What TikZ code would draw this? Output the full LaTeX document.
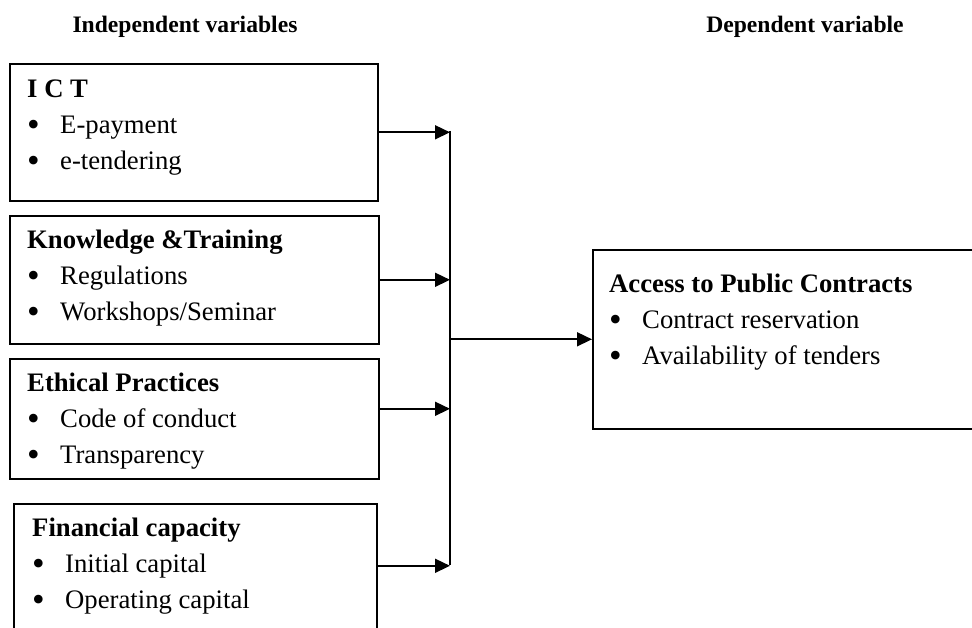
\documentclass[tikz,border=0pt]{standalone}
\usepackage{fontspec}
\setmainfont{Liberation Serif}
\usetikzlibrary{arrows.meta}

\tikzset{
  varbox/.style={draw, line width=1.6pt, anchor=north west, inner sep=0pt},
  vartext/.style={anchor=base west, align=left, inner sep=0pt,
    font=\fontsize{26.7}{36}\selectfont},
  headtext/.style={anchor=base, inner sep=0pt, font=\fontsize{23.6}{28}\selectfont\bfseries},
  link/.style={line width=1.6pt, -{Triangle[length=15pt,width=14pt]}}
}
\newcommand{\bul}{\makebox[33pt][l]{\raisebox{-0.1em}{\scalebox{1.35}{\textbullet}}}}

\begin{document}
\begin{tikzpicture}[x=1pt,y=1pt]
  \useasboundingbox (0,0) rectangle (972,628);
  \clip (0,0) rectangle (972,628);

  \node[headtext] (indep) at (185,595) {Independent variables};
  \node[headtext] (dep) at (805,595) {Dependent variable};

  \node[varbox, minimum width=368pt, minimum height=137pt] (ict) at (9,565) {};
  \node[varbox, minimum width=369pt, minimum height=128pt] (know) at (9,413) {};
  \node[varbox, minimum width=369pt, minimum height=120pt] (ethics) at (9,270) {};
  \node[varbox, minimum width=363pt, minimum height=140pt] (fin) at (13,125) {};
  \node[varbox, minimum width=400pt, minimum height=179pt] (access) at (592,379) {};

  % base anchor sits on the last line, two lines below the heading
  \node[vartext] (ict text) at ([shift={(18pt,-107pt)}]ict.north west)
    {\textbf{I C T}\\ \bul E-payment\\ \bul e-tendering};
  \node[vartext] (know text) at ([shift={(18pt,-106pt)}]know.north west)
    {\textbf{Knowledge \&Training}\\ \bul Regulations\\ \bul Workshops/Seminar};
  \node[vartext] (ethics text) at ([shift={(18pt,-106pt)}]ethics.north west)
    {\textbf{Ethical Practices}\\ \bul Code of conduct\\ \bul Transparency};
  \node[vartext] (fin text) at ([shift={(19pt,-106pt)}]fin.north west)
    {\textbf{Financial capacity}\\ \bul Initial capital\\ \bul Operating capital};
  \node[vartext] (access text) at ([shift={(17pt,-116pt)}]access.north west)
    {\textbf{Access to Public Contracts}\\ \bul Contract reservation\\ \bul Availability of tenders};

  \coordinate (bus top) at (450,497);
  \coordinate (bus bottom) at (450,63);
  \draw[line width=1.6pt] (bus top) -- (bus bottom);

  \draw[link] (ict.east) -- (ict.east -| bus top);
  \draw[link] (know.east) -- (know.east -| bus top);
  \draw[link] ([yshift=10pt]ethics.east) -- ([yshift=10pt]ethics.east -| bus top);
  \draw[link] ([yshift=8pt]fin.east) -- ([yshift=8pt]fin.east -| bus bottom);
  \draw[link] (access.west -| bus top) -- (access.west);
\end{tikzpicture}
\end{document}
